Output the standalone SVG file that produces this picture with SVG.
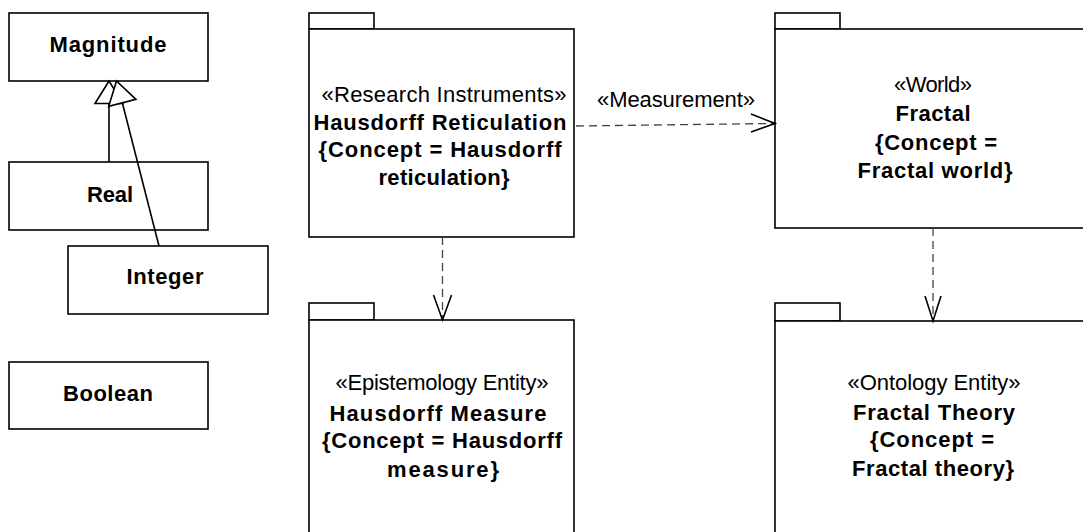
<svg xmlns="http://www.w3.org/2000/svg" width="1083" height="532" viewBox="0 0 1083 532">
  <style>
    .box { fill: #fff; stroke: #000; stroke-width: 1.6; }
    .st { font-family: "Liberation Sans", Arial, sans-serif; font-size: 22px; fill: #000; text-anchor: middle; }
    .nm { font-family: "Liberation Sans", Arial, sans-serif; font-size: 22px; font-weight: bold; fill: #000; text-anchor: middle; }
    .dep { fill: none; stroke: #444; stroke-width: 1.3; stroke-dasharray: 8 5; }
    .head { fill: none; stroke: #000; stroke-width: 1.6; }
    .gen { fill: none; stroke: #000; stroke-width: 1.6; }
    .tri { fill: #fff; stroke: #000; stroke-width: 1.6; stroke-linejoin: miter; }
  </style>

  <!-- Simple classes -->
  <g id="magnitude">
    <rect class="box" x="9" y="13" width="199" height="68"/>
    <text class="nm" x="108" y="52" textLength="117" lengthAdjust="spacing">Magnitude</text>
  </g>
  <g id="real">
    <rect class="box" x="9" y="162" width="199" height="68"/>
    <text class="nm" x="110" y="202" textLength="46" lengthAdjust="spacing">Real</text>
  </g>
  <g id="integer">
    <rect class="box" x="68" y="246" width="200" height="68"/>
    <text class="nm" x="165" y="284" textLength="77" lengthAdjust="spacing">Integer</text>
  </g>
  <g id="boolean">
    <rect class="box" x="9" y="362" width="199" height="67"/>
    <text class="nm" x="108" y="401" textLength="90" lengthAdjust="spacing">Boolean</text>
  </g>

  <!-- Packages -->
  <g id="hausdorff-reticulation">
    <rect class="box" x="309" y="13" width="65" height="16"/>
    <rect class="box" x="309" y="29" width="265" height="208"/>
    <text class="st" x="444" y="102" textLength="245" lengthAdjust="spacing">«Research Instruments»</text>
    <text class="nm" x="440" y="130" textLength="253" lengthAdjust="spacing">Hausdorff Reticulation</text>
    <text class="nm" x="440" y="157" textLength="243" lengthAdjust="spacing">{Concept = Hausdorff</text>
    <text class="nm" x="444" y="185" textLength="131" lengthAdjust="spacing">reticulation}</text>
  </g>

  <g id="fractal">
    <rect class="box" x="775" y="13" width="65" height="16"/>
    <rect class="box" x="775" y="29" width="316" height="199"/>
    <text class="st" x="933" y="92" textLength="78" lengthAdjust="spacing">«World»</text>
    <text class="nm" x="933" y="121" textLength="75" lengthAdjust="spacing">Fractal</text>
    <text class="nm" x="936" y="150" textLength="122" lengthAdjust="spacing">{Concept =</text>
    <text class="nm" x="935" y="178" textLength="155" lengthAdjust="spacing">Fractal world}</text>
  </g>

  <g id="hausdorff-measure">
    <rect class="box" x="309" y="303" width="65" height="17"/>
    <rect class="box" x="309" y="320" width="265" height="230"/>
    <text class="st" x="442" y="390" textLength="213" lengthAdjust="spacing">«Epistemology Entity»</text>
    <text class="nm" x="438" y="421" textLength="217" lengthAdjust="spacing">Hausdorff Measure</text>
    <text class="nm" x="442" y="448" textLength="240" lengthAdjust="spacing">{Concept = Hausdorff</text>
    <text class="nm" x="443" y="477" textLength="112" lengthAdjust="spacing">measure}</text>
  </g>

  <g id="fractal-theory">
    <rect class="box" x="775" y="303" width="65" height="18"/>
    <rect class="box" x="775" y="321" width="316" height="230"/>
    <text class="st" x="934" y="390" textLength="173" lengthAdjust="spacing">«Ontology Entity»</text>
    <text class="nm" x="934" y="420" textLength="162" lengthAdjust="spacing">Fractal Theory</text>
    <text class="nm" x="932" y="447" textLength="124" lengthAdjust="spacing">{Concept =</text>
    <text class="nm" x="933" y="476" textLength="162" lengthAdjust="spacing">Fractal theory}</text>
  </g>

  <!-- Connectors -->
  <g id="connectors">
    <!-- Generalizations to Magnitude -->
    <line class="gen" x1="109" y1="162" x2="109" y2="103.5"/>
    <polygon class="tri" points="109,81 95,103.5 123,103.5"/>
    <line class="gen" x1="159" y1="246" x2="122.3" y2="102.8"/>
    <polygon class="tri" points="116.5,81 108.7,106.3 135.9,99.3"/>

    <!-- Measurement dependency -->
    <line class="dep" x1="576" y1="126" x2="774" y2="123.5"/>
    <polyline class="head" points="751,114 775,123.5 751,132"/>
    <text class="st" x="676" y="107" textLength="158" lengthAdjust="spacing">«Measurement»</text>

    <!-- Vertical dependencies -->
    <line class="dep" x1="442.5" y1="237" x2="442.5" y2="319"/>
    <polyline class="head" points="433.5,295 442.5,320 451.5,295"/>
    <line class="dep" x1="933" y1="228" x2="933" y2="320"/>
    <polyline class="head" points="925,296 933,321 941,296"/>
  </g>
</svg>
